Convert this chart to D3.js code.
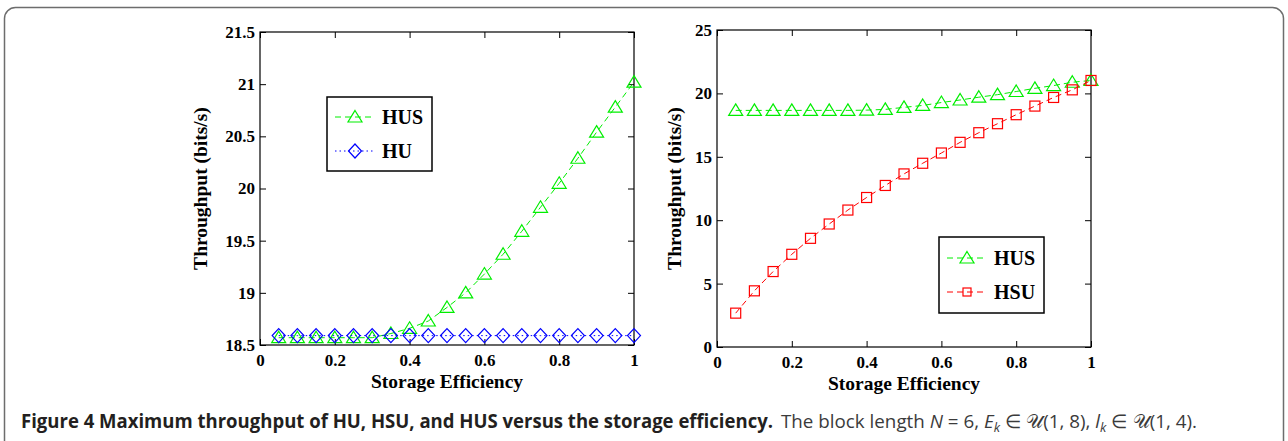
<!DOCTYPE html>
<html>
<head>
  <meta charset="UTF-8">
  <style>
    body { margin: 0; background: #fff; }
    svg { display: block; }
    .tick text { font-family: "Liberation Serif", serif; font-weight: bold; font-size: 17px; fill: #000; }
    .axis-title { font-family: "Liberation Serif", serif; font-weight: bold; font-size: 19.5px; fill: #000; }
    .legend text { font-family: "Liberation Serif", serif; font-weight: bold; font-size: 20px; fill: #000; }
    .caption { font-family: "Open Sans", sans-serif; font-size: 19px; }
  </style>
</head>
<body>
<svg id="chart" width="1288" height="441"></svg>
<script src="https://d3js.org/d3.v7.min.js"></script>
<script>
// storage efficiency values (x)
const efficiency = [0.05, 0.10, 0.15, 0.20, 0.25, 0.30, 0.35, 0.40, 0.45, 0.50,
                    0.55, 0.60, 0.65, 0.70, 0.75, 0.80, 0.85, 0.90, 0.95, 1.00];

// left panel
const husLeft = [18.57, 18.57, 18.57, 18.57, 18.57, 18.57, 18.61, 18.66, 18.73, 18.86,
                 19.00, 19.18, 19.37, 19.59, 19.82, 20.05, 20.29, 20.54, 20.78, 21.02];
const huLeft  = [18.59, 18.59, 18.59, 18.59, 18.59, 18.59, 18.59, 18.59, 18.59, 18.59,
                 18.59, 18.59, 18.59, 18.59, 18.59, 18.59, 18.59, 18.59, 18.59, 18.59];

// right panel
const husRight = [18.66, 18.66, 18.66, 18.66, 18.66, 18.66, 18.66, 18.68, 18.74, 18.90,
                  19.05, 19.28, 19.48, 19.70, 19.90, 20.15, 20.40, 20.62, 20.88, 21.02];
const hsuRight = [2.67, 4.43, 5.95, 7.31, 8.57, 9.70, 10.80, 11.79, 12.74, 13.65,
                  14.49, 15.30, 16.14, 16.90, 17.61, 18.32, 19.00, 19.68, 20.28, 21.02];

const xTicks = [0, 0.2, 0.4, 0.6, 0.8, 1];
const yTicksLeft = [18.5, 19, 19.5, 20, 20.5, 21, 21.5];
const yTicksRight = [0, 5, 10, 15, 20, 25];

const xLabel = "Storage Efficiency";
const yLabel = "Throughput (bits/s)";

const GREEN = "#00ee00", BLUE = "#0000ff", RED = "#ff0000";

let svg = d3.select("#chart");

// figure frame
svg.append("rect")
  .attr("x", 4.5).attr("y", 7.5)
  .attr("width", 1279).attr("height", 470)
  .attr("rx", 11)
  .attr("fill", "none")
  .attr("stroke", "#6d6d6d")
  .attr("stroke-width", 1.5);

// marker shapes
function triangle(g, color) {
  g.append("path").attr("d", "M0,-6.5L7,5L-7,5Z")
    .attr("fill", "none").attr("stroke", color).attr("stroke-width", 1.2);
}
function diamond(g, color) {
  g.append("path").attr("d", "M0,-7L6.5,0L0,7L-6.5,0Z")
    .attr("fill", "none").attr("stroke", color).attr("stroke-width", 1.2);
}
function square(size) {
  return function(g, color) {
    g.append("rect").attr("x", -size).attr("y", -size)
      .attr("width", 2 * size).attr("height", 2 * size)
      .attr("fill", "none").attr("stroke", color).attr("stroke-width", 1.2);
  };
}

function drawPanel(p) {
  let x = d3.scaleLinear().domain([0, 1]).range([p.left, p.right]);
  let y = d3.scaleLinear().domain(p.yDomain).range([p.bottom, p.top]);
  let g = svg.append("g");

  // axes with inward ticks (matlab style)
  g.append("g")
    .attr("transform", `translate(0,${p.bottom})`)
    .call(d3.axisBottom(x).tickValues(xTicks).tickSize(-6).tickPadding(9).tickFormat(d3.format("")));
  g.append("g")
    .attr("transform", `translate(0,${p.top})`)
    .call(d3.axisTop(x).tickValues(xTicks).tickSize(-6).tickFormat(""));
  g.append("g")
    .attr("transform", `translate(${p.left},0)`)
    .call(d3.axisLeft(y).tickValues(p.yTicks).tickSize(-6).tickPadding(5).tickFormat(d3.format("")));
  g.append("g")
    .attr("transform", `translate(${p.right},0)`)
    .call(d3.axisRight(y).tickValues(p.yTicks).tickSize(-6).tickFormat(""));
  g.selectAll(".domain").remove();
  g.selectAll(".tick line").attr("stroke", "#000");

  g.append("rect")
    .attr("x", p.left).attr("y", p.top)
    .attr("width", p.right - p.left).attr("height", p.bottom - p.top)
    .attr("fill", "none").attr("stroke", "#000").attr("stroke-width", 1.2);

  // axis titles
  g.append("text").attr("class", "axis-title")
    .attr("x", (p.left + p.right) / 2).attr("y", p.bottom + 43)
    .attr("text-anchor", "middle").text(xLabel);
  g.append("text").attr("class", "axis-title")
    .attr("transform", `translate(${p.yTitleX},${(p.top + p.bottom) / 2}) rotate(-90)`)
    .attr("text-anchor", "middle").text(yLabel);

  // series
  p.series.forEach(s => {
    let line = d3.line().x((d, i) => x(efficiency[i])).y(d => y(d));
    g.append("path").datum(s.values)
      .attr("d", line)
      .attr("fill", "none")
      .attr("stroke", s.color)
      .attr("stroke-width", 1)
      .attr("stroke-dasharray", s.dash);
    g.selectAll(null).data(s.values).enter()
      .append("g")
      .attr("transform", (d, i) => `translate(${x(efficiency[i])},${y(d)})`)
      .each(function() { s.marker(d3.select(this), s.color); });
  });

  // legend
  let lg = g.append("g").attr("class", "legend");
  let L = p.legend;
  lg.append("rect")
    .attr("x", L.x).attr("y", L.y).attr("width", L.w).attr("height", L.h)
    .attr("fill", "#fff").attr("stroke", "#000").attr("stroke-width", 1.5);
  p.series.forEach((s, i) => {
    let cy = L.y + L.row0 + i * L.rowGap;
    lg.append("line")
      .attr("x1", L.x + 8).attr("x2", L.x + 46)
      .attr("y1", cy).attr("y2", cy)
      .attr("stroke", s.color).attr("stroke-width", 1)
      .attr("stroke-dasharray", s.dash);
    let m = lg.append("g").attr("transform", `translate(${L.x + 28},${cy})`);
    (s.legendMarker || s.marker)(m, s.color);
    lg.append("text")
      .attr("x", L.x + 55).attr("y", cy + 7)
      .text(s.name);
  });
}

drawPanel({
  left: 260, right: 634, top: 32, bottom: 345,
  yDomain: [18.5, 21.5], yTicks: yTicksLeft, yTitleX: 207,
  series: [
    { name: "HUS", values: husLeft, color: GREEN, dash: "6,4", marker: triangle },
    { name: "HU", values: huLeft, color: BLUE, dash: "1.5,3", marker: diamond }
  ],
  legend: { x: 327, y: 97, w: 105, h: 74, row0: 20, rowGap: 34 }
});

drawPanel({
  left: 717, right: 1091, top: 30, bottom: 347,
  yDomain: [0, 25], yTicks: yTicksRight, yTitleX: 681,
  series: [
    { name: "HUS", values: husRight, color: GREEN, dash: "6,4", marker: triangle },
    { name: "HSU", values: hsuRight, color: RED, dash: "6,4", marker: square(5), legendMarker: square(4) }
  ],
  legend: { x: 939, y: 237, w: 105, h: 76, row0: 21, rowGap: 34 }
});

// caption
svg.append("text").attr("class", "caption")
  .attr("x", 21).attr("y", 428)
  .attr("font-weight", "bold").attr("fill", "#231f20")
  .attr("textLength", 752).attr("lengthAdjust", "spacingAndGlyphs")
  .text("Figure 4 Maximum throughput of HU, HSU, and HUS versus the storage efficiency.");

let cap2 = svg.append("text").attr("class", "caption")
  .attr("x", 781).attr("y", 428)
  .attr("fill", "#3b3b3b")
  .attr("textLength", 416).attr("lengthAdjust", "spacingAndGlyphs");
cap2.append("tspan").text("The block length ");
cap2.append("tspan").attr("font-style", "italic").text("N");
cap2.append("tspan").text(" = 6, ");
cap2.append("tspan").attr("font-style", "italic").text("E");
cap2.append("tspan").attr("font-style", "italic").attr("font-size", 13).attr("dy", 4).text("k");
cap2.append("tspan").attr("dy", -4).text(" \u2208 \uD835\uDCB0(1, 8), ");
cap2.append("tspan").attr("font-style", "italic").text("l");
cap2.append("tspan").attr("font-style", "italic").attr("font-size", 13).attr("dy", 4).text("k");
cap2.append("tspan").attr("dy", -4).text(" \u2208 \uD835\uDCB0(1, 4).");
</script>
</body>
</html>
